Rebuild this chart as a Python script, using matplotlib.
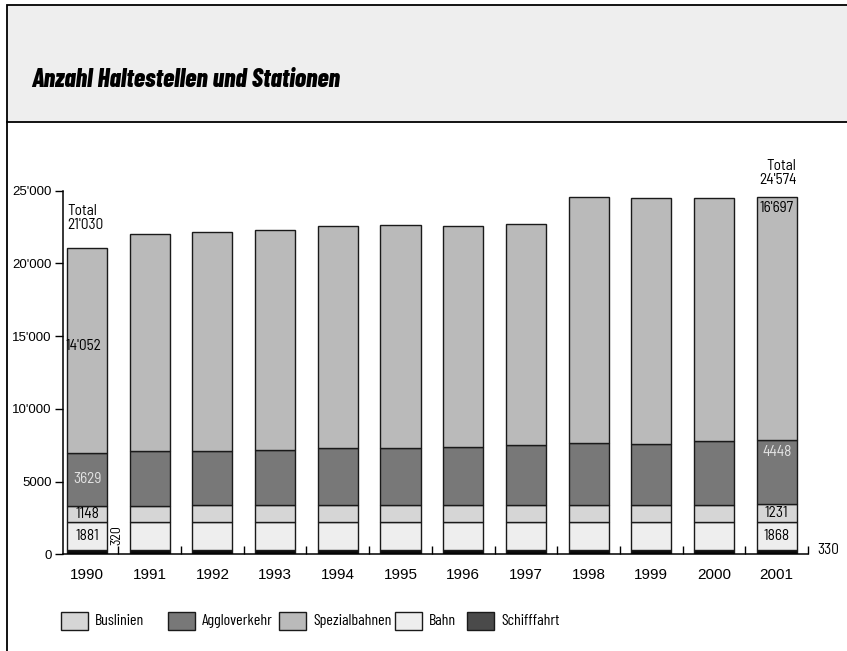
import matplotlib
matplotlib.use("Agg")
import matplotlib.pyplot as plt
from matplotlib.patches import Rectangle
from matplotlib.lines import Line2D
from matplotlib import font_manager as fm
import numpy as np

# ---------------- data ----------------
years = ["1990", "1991", "1992", "1993", "1994", "1995",
         "1996", "1997", "1998", "1999", "2000", "2001"]
schifffahrt = [320, 320, 322, 322, 324, 324, 325, 326, 327, 328, 329, 330]
bahn = [1881, 1880, 1879, 1878, 1877, 1876, 1875, 1874, 1872, 1870, 1869, 1868]
buslinien = [1148, 1155, 1160, 1165, 1175, 1185, 1195, 1200, 1210, 1215, 1222, 1231]
aggloverkehr = [3629, 3733, 3765, 3785, 3911, 3902, 3961, 4093, 4244, 4195, 4375, 4448]
spezialbahnen = [14052, 14920, 15044, 15157, 15274, 15363, 15184, 15226, 16880, 16877, 16690, 16697]
totals = [21030, None, None, None, None, None, None, None, None, None, None, 24574]

legend_names = ["Buslinien", "Aggloverkehr", "Spezialbahnen", "Bahn", "Schifffahrt"]
ytick_values = [0, 5000, 10000, 15000, 20000, 25000]
ytick_labels = ["0", "5000", "10'000", "15'000", "20'000", "25'000"]


def fmt(v):
    return f"{v:,}".replace(",", "'") if v >= 10000 else str(v)


def pick(*names):
    for n in names:
        try:
            fm.findfont(fm.FontProperties(family=n), fallback_to_default=False)
            return n
        except Exception:
            pass
    return "DejaVu Sans"


NARROW = pick("Barlow Semi Condensed", "Archivo Narrow", "Liberation Sans")
COND = pick("Barlow Condensed", "Archivo Narrow", "Liberation Sans")
TITLE = pick("Barlow Condensed", "Fira Sans Condensed", "Liberation Sans")
REG = pick("Liberation Sans", "DejaVu Sans")

W, H = 847, 651
fig = plt.figure(figsize=(W / 100, H / 100), dpi=100)


def fx(px):
    return px / W


def fy(py):
    return 1 - py / H


# header band + frame
fig.add_artist(Rectangle((fx(7), fy(122)), 1.05 - fx(7), fy(5) - fy(122),
                         transform=fig.transFigure, facecolor="#eeeeee",
                         edgecolor="black", lw=1.3))
fig.add_artist(Line2D([fx(7), fx(7)], [fy(122), -0.01], transform=fig.transFigure,
                      color="black", lw=1.3))
fig.text(fx(31), fy(80), "Anzahl Haltestellen und Stationen", fontfamily=TITLE,
         fontweight=800, fontstyle="italic", fontsize=18.5, va="center", ha="left")

# ---------------- axes ----------------
ax = fig.add_axes([fx(63), fy(554.4), fx(808) - fx(63), fy(190.5) - fy(554.4)])
ax.set_facecolor("none")
x = np.arange(len(years))
width = 0.64

stack = [
    (schifffahrt, "#0a0a0a"),
    (bahn, "#eeeeee"),
    (buslinien, "#d6d6d6"),
    (aggloverkehr, "#787878"),
    (spezialbahnen, "#bababa"),
]
legend_colors = {"Buslinien": "#d6d6d6", "Aggloverkehr": "#787878",
                 "Spezialbahnen": "#bababa", "Bahn": "#eeeeee", "Schifffahrt": "#4a4a4a"}

bottom = np.zeros(len(years))
bottoms = []
for vals, col in stack:
    bottoms.append(bottom.copy())
    ax.bar(x, vals, width, bottom=bottom, color=col, edgecolor="#1a1a1a",
           linewidth=1.0, zorder=2)
    bottom = bottom + np.array(vals)

ax.set_xlim(-0.383, 11.5)
ax.set_ylim(0, 25000)
for s in ["top", "right"]:
    ax.spines[s].set_visible(False)
ax.spines["left"].set_bounds(0, 25000)
ax.spines["left"].set_linewidth(1.1)
ax.spines["bottom"].set_linewidth(1.1)

ax.set_yticks(ytick_values)
ax.set_yticklabels(ytick_labels, fontfamily=REG, fontsize=9.5)
ax.tick_params(axis="y", direction="out", length=6, width=1.0, pad=2)

ax.set_xticks(x)
ax.set_xticklabels(years, fontfamily=REG, fontsize=11)
ax.set_xticks(x + 0.5, minor=True)
ax.tick_params(axis="x", which="major", length=0, pad=10)
ax.tick_params(axis="x", which="minor", direction="in", length=6, width=1.0)

# ---------------- annotations ----------------
lab = dict(fontfamily=NARROW, fontsize=11, zorder=5)
# 1990
i = 0
ax.annotate("Total\n" + fmt(totals[i]), (x[i] - width / 2, bottom[i]),
            xytext=(0, 12), textcoords="offset points", ha="left", va="bottom",
            linespacing=1.0, annotation_clip=False, **lab)
ax.annotate(fmt(spezialbahnen[i]), (x[i] - width / 2, bottoms[4][i] + spezialbahnen[i] / 2),
            xytext=(-1, 3), textcoords="offset points", ha="left", va="center", **lab)
ax.text(x[i], bottoms[3][i] + aggloverkehr[i] / 2, str(aggloverkehr[i]),
        ha="center", va="center", color="#e4e4e4", **lab)
ax.text(x[i], bottoms[2][i] + buslinien[i] / 2, str(buslinien[i]),
        ha="center", va="center", **lab)
ax.text(x[i], bottoms[1][i] + bahn[i] / 2, str(bahn[i]),
        ha="center", va="center", **lab)
ax.annotate(str(schifffahrt[i]), (x[i] + 0.5, 0), xytext=(-1, 7),
            textcoords="offset points", rotation=90, ha="center", va="bottom",
            fontfamily=NARROW, fontsize=10)
# 2001
i = 11
ax.annotate("Total\n" + fmt(totals[i]), (x[i] + width / 2, bottom[i]),
            xytext=(0, 7), textcoords="offset points", ha="right", va="bottom",
            linespacing=1.0, annotation_clip=False, **lab)
ax.annotate(fmt(spezialbahnen[i]), (x[i], bottom[i]),
            xytext=(0, -3), textcoords="offset points", ha="center", va="top", **lab)
ax.annotate(str(aggloverkehr[i]), (x[i], bottoms[4][i]),
            xytext=(0, -4), textcoords="offset points", ha="center", va="top",
            color="#e4e4e4", **lab)
ax.text(x[i], bottoms[2][i] + buslinien[i] / 2, str(buslinien[i]),
        ha="center", va="center", **lab)
ax.text(x[i], bottoms[1][i] + bahn[i] / 2, str(bahn[i]),
        ha="center", va="center", **lab)
ax.annotate(str(schifffahrt[i]), (x[i] + 0.5, schifffahrt[i]), xytext=(7, 0),
            textcoords="offset points", ha="left", va="center",
            fontfamily=NARROW, fontsize=11, annotation_clip=False)

# ---------------- legend ----------------
patch_left = [61, 168, 279, 395, 467]
for name, px in zip(legend_names, patch_left):
    fig.add_artist(Rectangle((fx(px), fy(630)), fx(27), fy(612) - fy(630),
                             transform=fig.transFigure, facecolor=legend_colors[name],
                             edgecolor="#1a1a1a", lw=1.0))
    fig.text(fx(px + 34), fy(621), name, fontfamily=COND,
             fontsize=11.5, va="center", ha="left")

fig.savefig("out.png", dpi=100)
